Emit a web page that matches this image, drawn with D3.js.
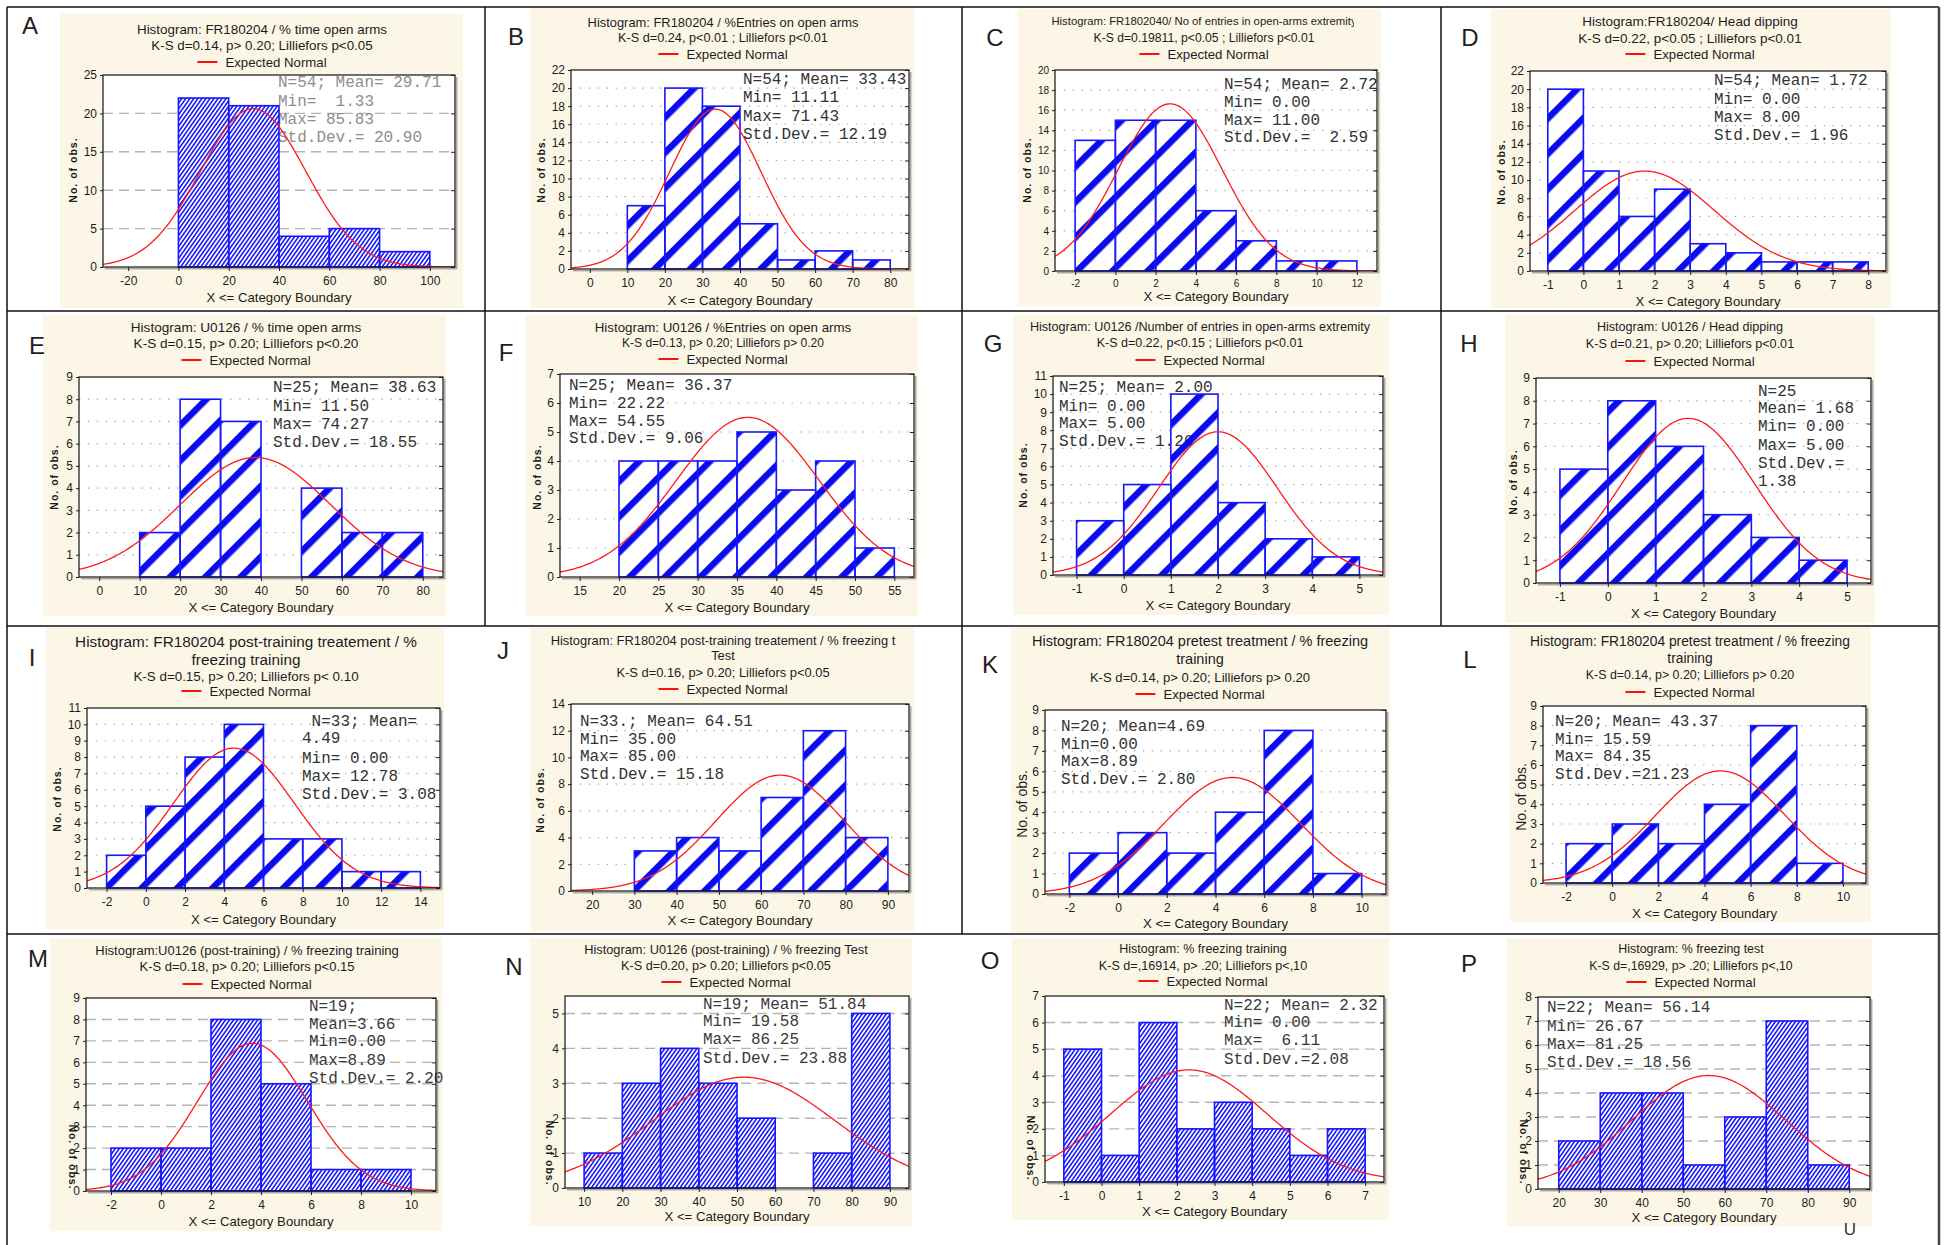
<!DOCTYPE html>
<html>
<head>
<meta charset="utf-8">
<script src="https://cdn.jsdelivr.net/npm/d3@7/dist/d3.min.js"></script>
<style>
html,body{margin:0;padding:0;background:#fff;}
svg{display:block;}
text{font-family:"Liberation Sans",Arial,Helvetica,sans-serif;}
.stats{font-family:"Liberation Mono","Courier New",monospace;white-space:pre;}
</style>
</head>
<body>
<svg id="fig" width="1946" height="1245"></svg>
<script>
// ---------- panel content ----------
const panelLetters = ["A","B","C","D","E","F","G","H","I","J","K","L","M","N","O","P"];

const titleLines = [
  ["Histogram: FR180204 / % time open arms", "K-S d=0.14, p> 0.20; Lilliefors p<0.05"],
  ["Histogram: FR180204 / %Entries on open arms", "K-S d=0.24, p<0.01 ; Lilliefors p<0.01"],
  ["Histogram: FR1802040/ No of entries in open-arms extremity", "K-S d=0.19811, p<0.05 ; Lilliefors p<0.01"],
  ["Histogram:FR180204/ Head dipping", "K-S d=0.22, p<0.05 ; Lilliefors p<0.01"],
  ["Histogram: U0126 / % time open arms", "K-S d=0.15, p> 0.20; Lilliefors p<0.20"],
  ["Histogram: U0126 / %Entries on open arms", "K-S d=0.13, p> 0.20; Lilliefors p> 0.20"],
  ["Histogram: U0126 /Number of entries in open-arms extremity", "K-S d=0.22, p<0.15 ; Lilliefors p<0.01"],
  ["Histogram: U0126 / Head dipping", "K-S d=0.21, p> 0.20; Lilliefors p<0.01"],
  ["Histogram: FR180204 post-training treatement / %", "freezing training", "K-S d=0.15, p> 0.20; Lilliefors p< 0.10"],
  ["Histogram: FR180204 post-training treatement / % freezing t", "Test", "K-S d=0.16, p> 0.20; Lilliefors p<0.05"],
  ["Histogram: FR180204 pretest treatment / % freezing", "training", "K-S d=0.14, p> 0.20; Lilliefors p> 0.20"],
  ["Histogram: FR180204 pretest treatment / % freezing", "training", "K-S d=0.14, p> 0.20; Lilliefors p> 0.20"],
  ["Histogram:U0126 (post-training) / % freezing training", "K-S d=0.18, p> 0.20; Lilliefors p<0.15"],
  ["Histogram: U0126 (post-training) / % freezing Test", "K-S d=0.20, p> 0.20; Lilliefors p<0.05"],
  ["Histogram: % freezing training", "K-S d=,16914, p> .20; Lilliefors p<,10"],
  ["Histogram: % freezing test", "K-S d=,16929, p> .20; Lilliefors p<,10"]
];

// lower edge of the first class and class width of every histogram
const binStart = [0, 10, -2, -1, 10, 20, -1, -1, -2, 30, -2, -2, -2, 10, -1, 20];
const binWidth = [20, 10, 2, 1, 10, 5, 1, 1, 2, 10, 2, 2, 2, 10, 1, 10];

// observed frequencies per class
const binCounts = [
  [22, 21, 4, 5, 2],
  [7, 20, 18, 5, 1, 2, 1],
  [13, 15, 15, 6, 3, 1, 1],
  [20, 11, 6, 9, 3, 2, 1, 1, 1],
  [2, 8, 7, 0, 4, 2, 2],
  [4, 4, 4, 5, 3, 4, 1],
  [3, 5, 10, 4, 2, 1],
  [5, 8, 6, 3, 2, 1],
  [2, 5, 8, 10, 3, 3, 1, 1],
  [3, 4, 3, 7, 12, 4],
  [2, 3, 2, 4, 8, 1],
  [2, 3, 2, 4, 8, 1],
  [2, 2, 8, 5, 1, 1],
  [1, 3, 4, 3, 2, 0, 1, 5],
  [5, 1, 6, 2, 3, 2, 1, 2],
  [2, 4, 4, 1, 3, 7, 1]
];

// parameters of the fitted ("Expected Normal") curve
const sampleN = [54, 54, 54, 54, 25, 25, 25, 25, 33, 33, 20, 20, 19, 19, 22, 22];
const fitMean = [29.71, 33.43, 2.72, 1.72, 38.63, 36.37, 2.00, 1.68, 4.49, 64.51, 4.69, 4.69, 3.66, 51.84, 2.32, 56.14];
const fitSd   = [20.90, 12.19, 2.59, 1.96, 18.55, 9.06, 1.26, 1.38, 3.08, 15.18, 2.80, 2.80, 2.20, 23.88, 2.08, 18.56];

// axis ranges and tick labels
const xDomains = [[-30,110],[-5,85],[-3,13],[-1.5,8.5],[-5,85],[12.5,57.5],[-1.5,5.5],[-1.5,5.5],
                  [-3,15],[15,95],[-3,11],[-3,11],[-3,11],[5,95],[-1.5,7.5],[15,95]];
const yMax = [25, 22, 20, 22, 9, 7, 11, 9, 11, 14, 9, 9, 9, 5.5, 7, 8];
const xTickValues = [
  [-20,0,20,40,60,80,100],
  [0,10,20,30,40,50,60,70,80],
  [-2,0,2,4,6,8,10,12],
  [-1,0,1,2,3,4,5,6,7,8],
  [0,10,20,30,40,50,60,70,80],
  [15,20,25,30,35,40,45,50,55],
  [-1,0,1,2,3,4,5],
  [-1,0,1,2,3,4,5],
  [-2,0,2,4,6,8,10,12,14],
  [20,30,40,50,60,70,80,90],
  [-2,0,2,4,6,8,10],
  [-2,0,2,4,6,8,10],
  [-2,0,2,4,6,8,10],
  [10,20,30,40,50,60,70,80,90],
  [-1,0,1,2,3,4,5,6,7],
  [20,30,40,50,60,70,80,90]
];
const yTickValues = [
  [0,5,10,15,20,25],
  [0,2,4,6,8,10,12,14,16,18,20,22],
  [0,2,4,6,8,10,12,14,16,18,20],
  [0,2,4,6,8,10,12,14,16,18,20,22],
  [0,1,2,3,4,5,6,7,8,9],
  [0,1,2,3,4,5,6,7],
  [0,1,2,3,4,5,6,7,8,9,10,11],
  [0,1,2,3,4,5,6,7,8,9],
  [0,1,2,3,4,5,6,7,8,9,10,11],
  [0,2,4,6,8,10,12,14],
  [0,1,2,3,4,5,6,7,8,9],
  [0,1,2,3,4,5,6,7,8,9],
  [0,1,2,3,4,5,6,7,8,9],
  [0,1,2,3,4,5],
  [0,1,2,3,4,5,6,7],
  [0,1,2,3,4,5,6,7,8]
];

// descriptive statistics printed inside each plot
const statsLines = [
  ["N=54; Mean= 29.71", "Min=  1.33", "Max= 85.83", "Std.Dev.= 20.90"],
  ["N=54; Mean= 33.43", "Min= 11.11", "Max= 71.43", "Std.Dev.= 12.19"],
  ["N=54; Mean= 2.72", "Min= 0.00", "Max= 11.00", "Std.Dev.=  2.59"],
  ["N=54; Mean= 1.72", "Min= 0.00", "Max= 8.00", "Std.Dev.= 1.96"],
  ["N=25; Mean= 38.63", "Min= 11.50", "Max= 74.27", "Std.Dev.= 18.55"],
  ["N=25; Mean= 36.37", "Min= 22.22", "Max= 54.55", "Std.Dev.= 9.06"],
  ["N=25; Mean= 2.00", "Min= 0.00", "Max= 5.00", "Std.Dev.= 1.26"],
  ["N=25", "Mean= 1.68", "Min= 0.00", "Max= 5.00", "Std.Dev.=", "1.38"],
  [" N=33; Mean=", "4.49", "Min= 0.00", "Max= 12.78", "Std.Dev.= 3.08"],
  ["N=33.; Mean= 64.51", "Min= 35.00", "Max= 85.00", "Std.Dev.= 15.18"],
  ["N=20; Mean=4.69", "Min=0.00", "Max=8.89", "Std.Dev.= 2.80"],
  ["N=20; Mean= 43.37", "Min= 15.59", "Max= 84.35", "Std.Dev.=21.23"],
  ["N=19;", "Mean=3.66", "Min=0.00", "Max=8.89", "Std.Dev.= 2.20"],
  ["N=19; Mean= 51.84", "Min= 19.58", "Max= 86.25", "Std.Dev.= 23.88"],
  ["N=22; Mean= 2.32", "Min= 0.00", "Max=  6.11", "Std.Dev.=2.08"],
  ["N=22; Mean= 56.14", "Min= 26.67", "Max= 81.25", "Std.Dev.= 18.56"]
];

const legendLabel = "Expected Normal";
const xAxisTitle = "X <= Category Boundary";
const yAxisTitle = "No. of obs.";

// ---------- panel layout (page pixels) ----------
// bg: cream card, letter: panel tag, tx/ty/ts: title centre, line centres, font sizes,
// ly: legend line, plot: inner frame, sx/sy: statistics block, yl: y-title centre, xl: x-title centre
const layout = [
  {bg:[60,14,463,308],  letter:[30,25],  tx:262, ty:[29,45], ts:[13.4,13.4], ly:62, plot:[103,75,455,267], sx:278, sy:[83,102,120,138], yl:[73,170], xl:297, sc:"#8e8e8e", grid:"dash", hatch:"fine", rot:-90},
  {bg:[530,8,914,308],  letter:[516,36], tx:723, ty:[22,38], ts:[12.9,12.7], ly:54, plot:[571,70,909,269], sx:743, sy:[80,98,117,135], yl:[541,170], xl:300, sc:"#333", grid:"dot", hatch:"thick", rot:-90},
  {bg:[1018,9,1381,306], letter:[995,37], tx:1204, ty:[21,38], ts:[11.3,12.2], ly:54, plot:[1055,70,1377,271], sx:1224, sy:[85,103,121,138], yl:[1027,170], xl:296, sc:"#333", grid:"dot", hatch:"thick", rot:-90, clip:1354, tick:10},
  {bg:[1491,9,1891,308], letter:[1470,37], tx:1690, ty:[21,38], ts:[13.5,13.5], ly:54, plot:[1530,71,1886,271], sx:1714, sy:[81,100,118,136], yl:[1501,172], xl:301, sc:"#333", grid:"dot", hatch:"thick", rot:-90},
  {bg:[43,315,446,616], letter:[37,345], tx:246, ty:[327,343], ts:[13.6,13.6], ly:360, plot:[79,377,443,577], sx:273, sy:[388,407,425,443], yl:[54,477], xl:607, sc:"#333", grid:"dot", hatch:"thick", rot:-90},
  {bg:[526,315,918,616], letter:[506,352], tx:723, ty:[327,343], ts:[13.3,12.0], ly:359, plot:[560,374,914,577], sx:569, sy:[386,404,422,439], yl:[537,477], xl:607, sc:"#333", grid:"dot", hatch:"thick", rot:-90},
  {bg:[1013,315,1389,615], letter:[993,343], tx:1200, ty:[327,343], ts:[12.6,12.5], ly:360, plot:[1053,376,1383,575], sx:1059, sy:[388,407,424,442], yl:[1023,475], xl:605, sc:"#333", grid:"dot", hatch:"thick", rot:-90},
  {bg:[1505,315,1875,623], letter:[1469,343], tx:1690, ty:[327,344], ts:[12.6,12.6], ly:361, plot:[1536,378,1871,583], sx:1758, sy:[392,409,427,446,464,482], yl:[1513,482], xl:613, sc:"#333", grid:"dot", hatch:"thick", rot:-90},
  {bg:[46,627,444,929], letter:[32,657], tx:246, ty:[641,659,676], ts:[15.3,15.3,13.4], ly:691, plot:[87,708,440,888], sx:302, sy:[722,739,759,777,795], yl:[57,799], xl:919, sc:"#333", grid:"dot", hatch:"thick", rot:-90},
  {bg:[530,627,914,931], letter:[503,650], tx:723, ty:[640,655,672], ts:[12.9,12.9,12.9], ly:689, plot:[571,704,909,891], sx:580, sy:[722,740,757,775], yl:[540,800], xl:920, sc:"#333", grid:"dot", hatch:"thick", rot:-90},
  {bg:[1011,627,1390,933], letter:[990,664], tx:1200, ty:[641,659,677], ts:[14.5,14.5,13.1], ly:694, plot:[1045,710,1386,894], sx:1061, sy:[727,745,762,780], yl:[1022,804], xl:923, sc:"#333", grid:"dot", hatch:"thick", rot:-90, big:true},
  {bg:[1510,627,1871,922], letter:[1470,659], tx:1690, ty:[641,658,675], ts:[13.8,13.8,12.4], ly:692, plot:[1543,706,1866,883], sx:1555, sy:[722,740,757,775], yl:[1521,797], xl:913, sc:"#333", grid:"dot", hatch:"thick", rot:-90, big:true},
  {bg:[50,938,442,1231], letter:[38,958], tx:247, ty:[950,966], ts:[13,13], ly:984, plot:[86,998,436,1191], sx:309, sy:[1007,1025,1042,1061,1079], yl:[73,1157], xl:1221, sc:"#3a3a3a", grid:"dash", hatch:"fine", rot:90},
  {bg:[530,938,912,1226], letter:[514,966], tx:726, ty:[949,966], ts:[12.8,12.7], ly:982, plot:[565,996,909,1188], sx:703, sy:[1005,1022,1040,1059], yl:[550,1153], xl:1216, sc:"#3a3a3a", grid:"dash", hatch:"fine", rot:90},
  {bg:[1012,938,1389,1220], letter:[990,960], tx:1203, ty:[949,966], ts:[12.5,12.6], ly:981, plot:[1045,996,1384,1182], sx:1224, sy:[1006,1023,1041,1060], yl:[1031,1148], xl:1211, sc:"#3a3a3a", grid:"dash", hatch:"fine", rot:90},
  {bg:[1507,938,1872,1226], letter:[1469,963], tx:1691, ty:[949,966], ts:[12.4,12.3], ly:982, plot:[1538,997,1870,1189], sx:1547, sy:[1008,1027,1045,1063], yl:[1524,1152], xl:1217, sc:"#3a3a3a", grid:"dash", hatch:"fine", rot:90}
];

// ---------- drawing ----------
const svg = d3.select("#fig");
const defs = svg.append("defs");

// wide diagonal stripes (transparent between stripes)
const thick = defs.append("pattern").attr("id", "hatchThick")
  .attr("patternUnits", "userSpaceOnUse").attr("width", 40).attr("height", 25)
  .attr("patternTransform", "rotate(-45)");
thick.append("rect").attr("y", 0).attr("width", 40).attr("height", 6.5).attr("fill", "#0b0bef");

// fine diagonal ruling
const fine = defs.append("pattern").attr("id", "hatchFine")
  .attr("patternUnits", "userSpaceOnUse").attr("width", 10).attr("height", 3.3)
  .attr("patternTransform", "rotate(-55)");
fine.append("rect").attr("y", 0).attr("width", 10).attr("height", 1.6).attr("fill", "#1a1aff");

const sqrt2pi = Math.sqrt(2 * Math.PI);

panelLetters.forEach((letter, i) => {
  const L = layout[i];
  const g = svg.append("g").attr("class", "panel panel-" + letter);
  const [px0, py0, px1, py1] = L.plot;

  // cream card
  g.append("rect").attr("x", L.bg[0]).attr("y", L.bg[1])
    .attr("width", L.bg[2] - L.bg[0]).attr("height", L.bg[3] - L.bg[1])
    .attr("fill", "#fcf6e7");

  // panel tag
  g.append("text").attr("x", L.letter[0]).attr("y", L.letter[1])
    .attr("text-anchor", "middle").attr("dominant-baseline", "central")
    .attr("font-size", 24).attr("fill", "#1e1e1e").text(letter);

  // titles (optionally clipped at the right)
  let titleG = g.append("g");
  if (L.clip) {
    const cid = "tclip" + i;
    defs.append("clipPath").attr("id", cid).append("rect")
      .attr("x", L.bg[0]).attr("y", L.bg[1]).attr("width", L.clip - L.bg[0]).attr("height", 60);
    titleG.attr("clip-path", "url(#" + cid + ")");
  }
  titleLines[i].forEach((t, k) => {
    titleG.append("text").attr("x", L.tx).attr("y", L.ty[k])
      .attr("text-anchor", "middle").attr("dominant-baseline", "central")
      .attr("font-size", L.ts[k]).attr("fill", "#1c1c1c").text(t);
  });

  // legend
  const legG = g.append("g");
  const legText = legG.append("text").attr("y", L.ly).attr("dominant-baseline", "central")
    .attr("font-size", 13.2).attr("fill", "#1c1c1c").text(legendLabel);
  const tw = legText.node().getComputedTextLength();
  const total = 20 + 8 + tw;
  const lx0 = L.tx - total / 2;
  legG.append("line").attr("x1", lx0).attr("x2", lx0 + 20).attr("y1", L.ly).attr("y2", L.ly)
    .attr("stroke", "#ff1010").attr("stroke-width", 2);
  legText.attr("x", lx0 + 28);

  // scales
  const xs = d3.scaleLinear().domain(xDomains[i]).range([px0, px1]);
  const ys = d3.scaleLinear().domain([0, yMax[i]]).range([py1, py0]);

  // plot background
  g.append("rect").attr("x", px0).attr("y", py0).attr("width", px1 - px0).attr("height", py1 - py0)
    .attr("fill", "#fff");

  // horizontal grid
  const gridVals = yTickValues[i].filter(v => v > 0 && v < yMax[i]);
  g.append("g").selectAll("line").data(gridVals).join("line")
    .attr("x1", px0).attr("x2", px1)
    .attr("y1", d => ys(d)).attr("y2", d => ys(d))
    .attr("stroke", L.grid === "dash" ? "#b4b4b4" : "#a8a8a8")
    .attr("stroke-width", L.grid === "dash" ? 1.4 : 1.2)
    .attr("stroke-dasharray", L.grid === "dash" ? "10,6" : "1.4,7.5");

  // histogram classes
  const bins = binCounts[i].map((c, k) => ({
    x0: binStart[i] + k * binWidth[i],
    x1: binStart[i] + (k + 1) * binWidth[i],
    count: c
  })).filter(b => b.count > 0);

  // bar ground (white), then the statistics block, then the hatching on top
  const barAttrs = sel => sel
    .attr("x", d => xs(d.x0)).attr("width", d => xs(d.x1) - xs(d.x0))
    .attr("y", d => ys(d.count)).attr("height", d => ys(0) - ys(d.count));
  g.append("g").selectAll("rect").data(bins).join("rect").call(barAttrs).attr("fill", "#fff");

  const st = g.append("g");
  statsLines[i].forEach((s, k) => {
    st.append("text").attr("class", "stats").attr("x", L.sx).attr("y", L.sy[k])
      .attr("dominant-baseline", "central").attr("font-size", 16)
      .attr("fill", L.sc).text(s);
  });

  g.append("g").selectAll("rect").data(bins).join("rect").call(barAttrs)
    .attr("fill", L.hatch === "fine" ? "url(#hatchFine)" : "url(#hatchThick)")
    .attr("stroke", "#1616ff").attr("stroke-width", 1.6);

  // expected normal curve
  const cid2 = "pclip" + i;
  defs.append("clipPath").attr("id", cid2).append("rect")
    .attr("x", px0).attr("y", py0 - 2).attr("width", px1 - px0).attr("height", py1 - py0 + 2);
  const [d0, d1] = xDomains[i];
  const scale = sampleN[i] * binWidth[i] / (fitSd[i] * sqrt2pi);
  const pts = d3.range(0, 241).map(k => {
    const x = d0 + (d1 - d0) * k / 240;
    const z = (x - fitMean[i]) / fitSd[i];
    return [x, scale * Math.exp(-0.5 * z * z)];
  });
  g.append("path").datum(pts)
    .attr("clip-path", "url(#" + cid2 + ")")
    .attr("d", d3.line().x(d => xs(d[0])).y(d => ys(d[1])))
    .attr("fill", "none").attr("stroke", "#ff1a1a").attr("stroke-width", 1.3);

  // frame
  g.append("rect").attr("x", px0).attr("y", py0).attr("width", px1 - px0).attr("height", py1 - py0)
    .attr("fill", "none").attr("stroke", "#111").attr("stroke-width", 1.2);
  g.append("path")
    .attr("d", `M${px1 + 1.8},${py0 + 2}V${py1 + 1.8}H${px0 + 2}`)
    .attr("fill", "none").attr("stroke", "#888").attr("stroke-width", 1);

  // axes
  const tickFont = L.tick || 12;
  const xa = g.append("g").attr("transform", `translate(0,${py1})`)
    .call(d3.axisBottom(xs).tickValues(xTickValues[i]).tickSize(4).tickPadding(5)
      .tickFormat(d => String(d)));
  const ya = g.append("g").attr("transform", `translate(${px0},0)`)
    .call(d3.axisLeft(ys).tickValues(yTickValues[i]).tickSize(3).tickPadding(3)
      .tickFormat(d => String(d)));
  const yr = g.append("g").attr("transform", `translate(${px1},0)`)
    .call(d3.axisRight(ys).tickValues(yTickValues[i]).tickSize(-4).tickFormat(""));
  [xa, ya, yr].forEach(a => {
    a.select(".domain").remove();
    a.selectAll("line").attr("stroke", "#222");
    a.selectAll("text").attr("font-size", tickFont).attr("fill", "#1c1c1c")
      .attr("font-family", "'Liberation Sans', Arial, sans-serif");
  });

  // axis titles
  g.append("text").attr("x", (px0 + px1) / 2).attr("y", L.xl)
    .attr("text-anchor", "middle").attr("dominant-baseline", "central")
    .attr("font-size", 13.2).attr("fill", "#1c1c1c").text(xAxisTitle);
  const yt = g.append("text")
    .attr("transform", `translate(${L.yl[0]},${L.yl[1]}) rotate(${L.rot})`)
    .attr("text-anchor", "middle").attr("dominant-baseline", "central")
    .attr("fill", "#1c1c1c").text(yAxisTitle);
  if (L.big) {
    yt.attr("font-size", 14);
  } else {
    yt.attr("font-size", 10.5).attr("font-weight", "bold").attr("letter-spacing", 1);
  }
});

// figure grid rules
const rules = svg.append("g").attr("stroke", "#111").attr("stroke-width", 1.5);
[[7,7,1939,7],[7,311,1939,311],[7,626,1939,626],[7,934,1939,934],
 [7,7,7,1245],[485,7,485,626],[962,7,962,934],[1441,7,1441,626]].forEach(s => {
  rules.append("line").attr("x1", s[0]).attr("y1", s[1]).attr("x2", s[2]).attr("y2", s[3]);
});
svg.append("line").attr("x1", 1939).attr("y1", 7).attr("x2", 1939).attr("y2", 1245)
  .attr("stroke", "#444").attr("stroke-width", 2.5);

// stray page mark in the lower right corner
svg.append("text").attr("x", 1850).attr("y", 1229).attr("text-anchor", "middle")
  .attr("dominant-baseline", "central").attr("font-size", 17).attr("fill", "#333").text("U");
</script>
</body>
</html>
